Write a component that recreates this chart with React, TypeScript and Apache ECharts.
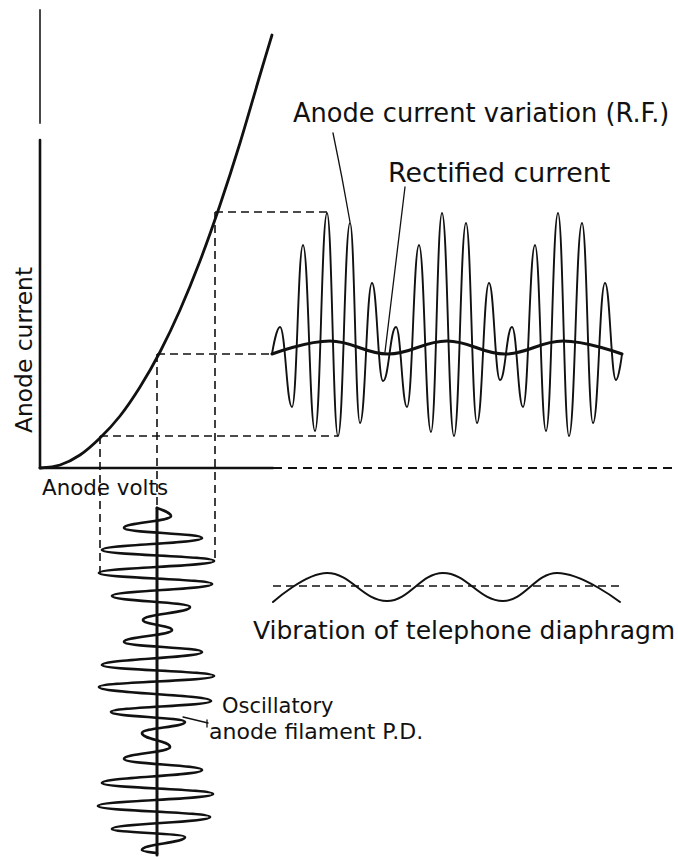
import React, { useEffect, useRef } from "react";
import * as echarts from "echarts";

// ---------- data (diagram units: origin at the anode-volts / anode-current axes) ----------
// Anode characteristic curve
const curveVolts = [0, 20, 40, 60, 80, 100, 120, 140, 160, 180, 200, 220, 232];
const curveCurrent = [0, 3, 13, 30, 52, 81, 116, 158, 207, 263, 325, 393, 433];

// Anode current variation (R.F.) - successive peaks and troughs
const rfTime = [232, 240, 252, 263, 275, 287, 298, 310, 320, 332, 343, 356, 367, 379, 391, 402, 414, 426, 437, 449, 460, 472, 483, 495, 506, 518, 529, 542, 553, 565, 576, 582];
const rfCurrent = [114, 141, 61, 223, 37, 255, 32, 245, 45, 185, 87, 141, 61, 223, 36, 255, 32, 245, 45, 185, 88, 141, 61, 223, 37, 255, 32, 245, 45, 185, 88, 114];

// Rectified current
const recTime = [232, 290, 348, 407, 465, 523, 582];
const recCurrent = [114, 127, 114, 127, 114, 127, 114];

// Oscillatory anode filament P.D. (drawn downward in time)
const gridVolts = [117, 131, 84, 162, 62, 174, 59, 172, 72, 150, 103, 132, 84, 162, 62, 174, 59, 171, 71, 145, 102, 130, 84, 162, 62, 173, 58, 170, 72, 145, 102, 117];
const gridTime = [-40, -48, -60, -70, -82, -93, -105, -116, -128, -139, -152, -162, -174, -184, -197, -208, -219, -233, -244, -254, -265, -279, -291, -302, -315, -326, -338, -349, -361, -369, -382, -385];
const gridAxisVolts = 117;
const gridAxisEnd = -387;

// Vibration of telephone diaphragm
const diaTime = [233, 287, 347, 403, 463, 517, 580];
const diaPos = [-134, -105, -133, -105, -133, -105, -134];
const diaRest = -118;

// Operating points projected from the grid swing to the anode current
const opVolts = [60, 117, 175];
const opCurrent = [32, 114, 256];
const opRfX = [298, 232, 287]; // RF extreme reached by each horizontal projection
const opWaveY = [-105, -40, -93]; // grid-swing extreme reached by each vertical projection

// Axes extents
const yAxisTop = 458;
const yAxisBreakTop = 345;
const yAxisBreakBottom = 328;
const xAxisSolidEnd = 233;
const xAxisDashEnd = 632;

// ---------- layout ----------
const W = 678;
const H = 857;
const ORIGIN_X = 40;
const ORIGIN_Y = 468;
const INK = "#111";
const FONT = "DejaVu Sans";

const zip = (xs: number[], ys: number[]) => xs.map((x, i) => [x, ys[i]]);

function line(data: number[][], width: number, extra: any = {}, lsExtra: any = {}) {
  return {
    type: "line",
    data,
    symbol: "none",
    silent: true,
    clip: false,
    lineStyle: { color: INK, width, cap: "round", join: "round", ...lsExtra },
    ...extra,
  };
}

function label(text: string, x: number, y: number, size: number, extra: any = {}) {
  return {
    type: "text",
    x,
    y,
    silent: true,
    ...extra,
    style: {
      text,
      fill: INK,
      font: `${size}px "${FONT}"`,
      textAlign: extra.align || "left",
      textVerticalAlign: "middle",
      align: extra.align || "left",
      verticalAlign: "middle",
    },
  };
}

export default function App() {
  const ref = useRef<HTMLDivElement>(null);

  useEffect(() => {
    if (!ref.current) return;
    const chart = echarts.init(ref.current, null, { renderer: "svg" });
    const dash = [8, 5];

    const series: any[] = [];
    // axes
    series.push(line([[0, yAxisTop], [0, yAxisBreakTop]], 1.8, {}, { color: "#333" }));
    series.push(line([[0, yAxisBreakBottom], [0, 0]], 2.6));
    series.push(line([[0, 0], [xAxisSolidEnd, 0]], 2.6));
    series.push(line([[xAxisSolidEnd, 0], [xAxisDashEnd, 0]], 2, {}, { type: [9, 6], cap: "butt" }));

    // projection lines
    opVolts.forEach((v, i) => {
      series.push(line([[v, opCurrent[i]], [opRfX[i], opCurrent[i]]], 1.6, {}, { type: dash, cap: "butt" }));
      series.push(line([[v, opCurrent[i]], [v, opWaveY[i]]], 1.6, {}, { type: dash, cap: "butt" }));
    });

    // characteristic curve
    series.push(line(zip(curveVolts, curveCurrent), 2.8, { smooth: 0.3 }));

    // RF anode current
    series.push(line(zip(rfTime, rfCurrent), 1.9, { smooth: 0.45, smoothMonotone: "x" }));
    // rectified current
    series.push(line(zip(recTime, recCurrent), 3, { smooth: 0.4, smoothMonotone: "x" }));

    // grid swing axis + wave
    series.push(line([[gridAxisVolts, gridTime[0]], [gridAxisVolts, gridAxisEnd]], 3));
    series.push(line(zip(gridVolts, gridTime), 2.7, { smooth: 0.45, smoothMonotone: "y" }));

    // diaphragm
    series.push(line([[diaTime[0], diaRest], [diaTime[diaTime.length - 1], diaRest]], 1.4, {}, { type: dash, cap: "butt" }));
    series.push(line(zip(diaTime, diaPos), 2, { smooth: 0.4, smoothMonotone: "x" }));

    // leader lines
    series.push(line([[293, 335], [302, 290], [310, 246]], 1.3, { smooth: 0.3 }));
    series.push(line([[365, 281], [345, 116]], 1.3));
    series.push(line([[143, -249], [168, -255]], 1.3));
    series.push(line([[167, -252], [167, -259]], 1.3));

    chart.setOption({
      animation: false,
      backgroundColor: "#ffffff",
      grid: { left: 0, top: 0, right: 0, bottom: 0 },
      xAxis: { type: "value", min: -ORIGIN_X, max: W - ORIGIN_X, show: false },
      yAxis: { type: "value", min: ORIGIN_Y - H, max: ORIGIN_Y, show: false },
      series,
      graphic: [
        label("Anode current variation (R.F.)", 293, 113, 25.7),
        label("Rectified current", 388, 172, 26.8),
        label("Anode current", 24, 350, 23.4, { rotation: Math.PI / 2, align: "center" }),
        label("Anode volts", 42, 487, 21.4),
        label("Vibration of telephone diaphragm", 253, 630, 25),
        label("Oscillatory", 222, 706, 21),
        label("anode filament P.D.", 209, 731, 22),
      ],
    });
    return () => chart.dispose();
  }, []);

  return (
    <div
      ref={ref}
      style={{ position: "fixed", left: 0, top: 0, width: W, height: H, background: "#fff" }}
    />
  );
}
